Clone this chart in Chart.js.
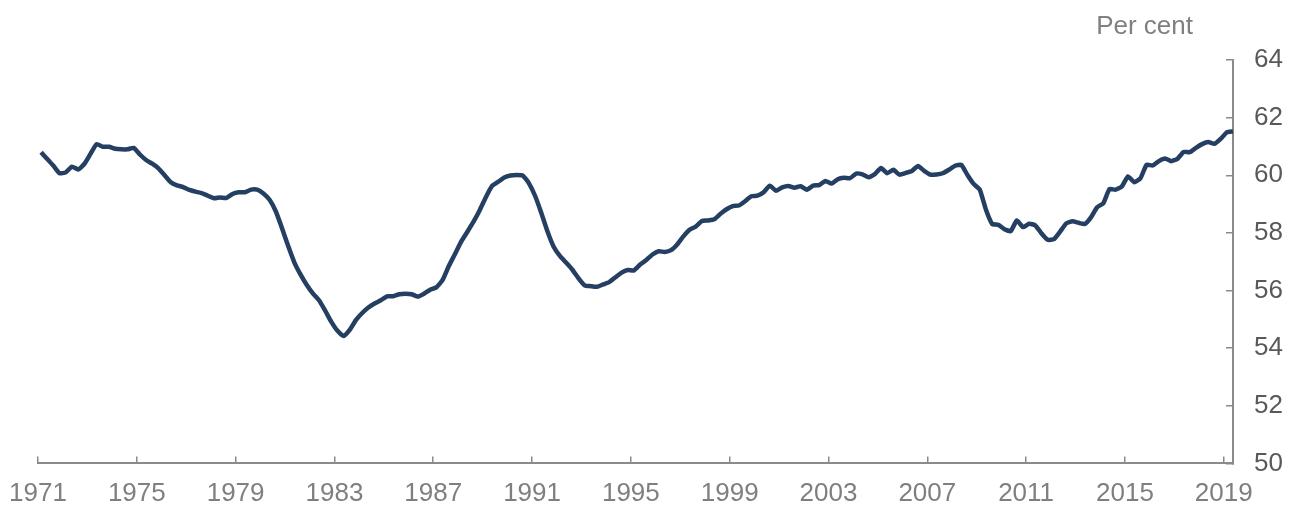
<!DOCTYPE html>
<html>
<head>
<meta charset="utf-8">
<script src="https://cdn.jsdelivr.net/npm/chart.js@4/dist/chart.umd.min.js"></script>
<style>
  html, body { margin: 0; padding: 0; background: #fff; }
  #wrap { width: 1290px; height: 507px; }
</style>
</head>
<body>
<div id="wrap"><canvas id="chart" width="1290" height="507"></canvas></div>
<script>
// Quarterly series, starting with the first quarter of 1971
const startYear = 1971;
const rate = [
  60.80, 60.56, 60.33, 60.07, 60.10, 60.30, 60.20, 60.39, 60.74, 61.08,
  60.99, 60.99, 60.92, 60.90, 60.90, 60.95, 60.72, 60.53, 60.40, 60.24,
  60.00, 59.76, 59.65, 59.59, 59.49, 59.43, 59.38, 59.29, 59.20, 59.23,
  59.21, 59.35, 59.41, 59.41, 59.50, 59.50, 59.37, 59.15, 58.75, 58.17,
  57.55, 56.98, 56.56, 56.20, 55.90, 55.66, 55.30, 54.91, 54.60, 54.42,
  54.64, 54.98, 55.22, 55.41, 55.55, 55.66, 55.80, 55.80, 55.87, 55.89,
  55.87, 55.79, 55.89, 56.03, 56.11, 56.36, 56.84, 57.26, 57.69, 58.03,
  58.38, 58.78, 59.23, 59.62, 59.77, 59.92, 59.99, 60.01, 59.99, 59.72,
  59.28, 58.69, 58.05, 57.52, 57.20, 56.97, 56.73, 56.43, 56.18, 56.15,
  56.13, 56.21, 56.29, 56.46, 56.62, 56.71, 56.70, 56.90, 57.06, 57.25,
  57.36, 57.34, 57.40, 57.60, 57.88, 58.11, 58.22, 58.41, 58.43, 58.47,
  58.66, 58.82, 58.93, 58.95, 59.10, 59.27, 59.29, 59.41, 59.64, 59.46,
  59.58, 59.63, 59.57, 59.62, 59.50, 59.64, 59.66, 59.80, 59.71, 59.86,
  59.91, 59.90, 60.06, 60.03, 59.93, 60.04, 60.25, 60.07, 60.19, 60.02,
  60.08, 60.15, 60.32, 60.15, 60.02, 60.03, 60.07, 60.19, 60.33, 60.36,
  60.01, 59.70, 59.50, 58.80, 58.31, 58.28, 58.13, 58.06, 58.43, 58.20,
  58.32, 58.26, 57.98, 57.76, 57.78, 58.04, 58.33, 58.40, 58.35, 58.31,
  58.54, 58.89, 59.03, 59.52, 59.50, 59.61, 59.96, 59.76, 59.89, 60.36,
  60.34, 60.49, 60.58, 60.49, 60.57, 60.81, 60.80, 60.95, 61.08, 61.15,
  61.09, 61.26, 61.49, 61.52
];
const tickYears = [1971, 1975, 1979, 1983, 1987, 1991, 1995, 1999, 2003, 2007, 2011, 2015, 2019];
const yMin = 50;
const yMax = 64;
const unitLabel = 'Per cent';

// Each quarter is placed at its mid point
const points = rate.map((v, i) => ({ x: startYear + (i + 0.5) / 4, y: v }));
const lastX = points[points.length - 1].x;

const FONT = '"Liberation Sans", Arial, sans-serif';
const axisGrey = '#8a8a8a';

// "Per cent" above the right axis
const unitLabelPlugin = {
  id: 'unitLabel',
  afterDraw(chart) {
    const ctx = chart.ctx;
    ctx.save();
    ctx.font = '26px ' + FONT;
    ctx.fillStyle = '#808080';
    ctx.textAlign = 'right';
    ctx.textBaseline = 'middle';
    ctx.fillText(unitLabel, chart.chartArea.right - 40, chart.chartArea.top - 33);
    ctx.restore();
  }
};

const ctx = document.getElementById('chart').getContext('2d');
const chart = new Chart(ctx, {
  type: 'line',
  data: {
    datasets: [{
      data: points,
      borderColor: '#243f61',
      borderWidth: 4.5,
      pointRadius: 0,
      tension: 0.15,
      fill: false
    }]
  },
  options: {
    responsive: false,
    animation: false,
    devicePixelRatio: 1,
    layout: { padding: { top: 60, left: 38, right: 0, bottom: 0 } },
    plugins: {
      legend: { display: false },
      tooltip: { enabled: false }
    },
    scales: {
      x: {
        type: 'linear',
        min: startYear,
        max: lastX,
        afterBuildTicks: scale => {
          scale.ticks = tickYears.map(y => ({ value: y }));
        },
        afterFit: scale => {
          scale.height = 42;
          // let the first label hang over the left padding
          scale.paddingLeft = 0;
          scale.paddingRight = 0;
        },
        grid: {
          drawOnChartArea: false,
          tickLength: -7,
          color: axisGrey,
          lineWidth: 1.5
        },
        border: { color: axisGrey, width: 2 },
        ticks: {
          padding: 22,
          autoSkip: false,
          maxRotation: 0,
          color: '#7f7f7f',
          font: { family: FONT, size: 26 },
          callback: v => String(v)
        }
      },
      y: {
        position: 'right',
        min: yMin,
        max: yMax,
        afterFit: scale => { scale.width = 57; },
        grid: {
          drawOnChartArea: false,
          tickLength: -7,
          color: axisGrey,
          lineWidth: 1.5
        },
        border: { color: axisGrey, width: 2 },
        ticks: {
          stepSize: 2,
          padding: 28,
          color: '#595959',
          font: { family: FONT, size: 26 }
        }
      }
    }
  },
  plugins: [unitLabelPlugin]
});
</script>
</body>
</html>
